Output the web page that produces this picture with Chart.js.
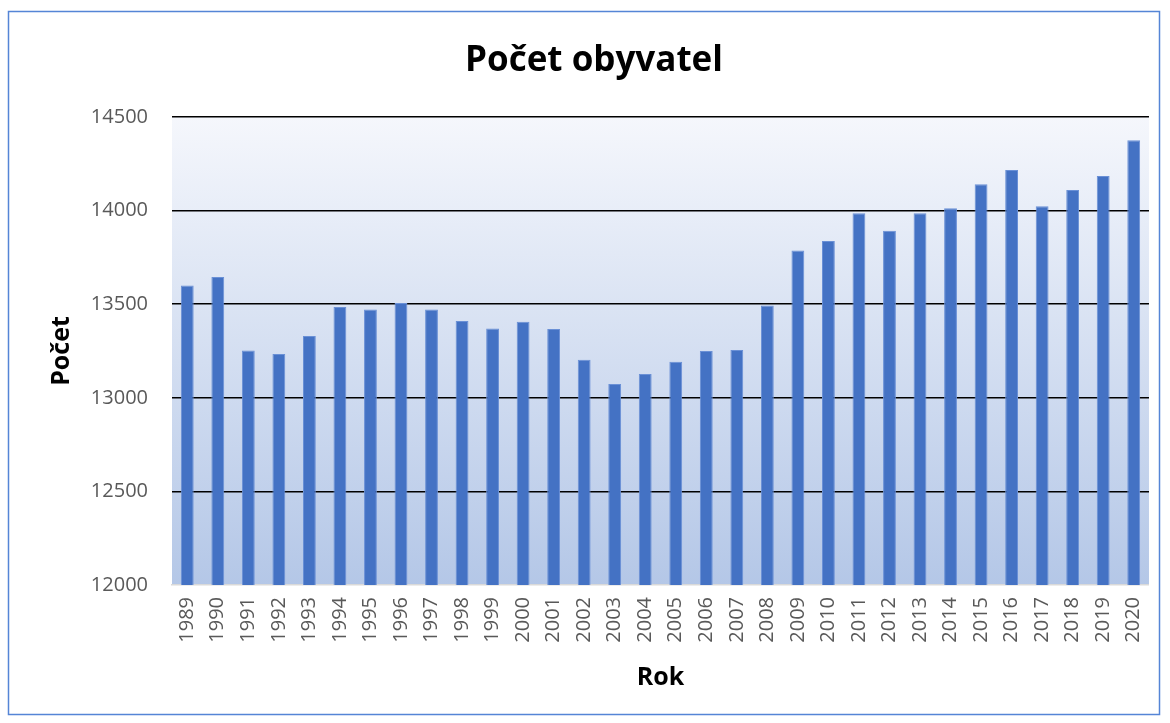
<!DOCTYPE html>
<html lang="cs">
<head>
<meta charset="utf-8">
<title>Počet obyvatel</title>
<script src="https://cdn.jsdelivr.net/npm/chart.js@4/dist/chart.umd.min.js"></script>
<style>
    html, body { margin: 0; padding: 0; background: #fff; }
    canvas { display: block; }
</style>
</head>
<body>
<canvas id="graf" width="1170" height="723"></canvas>
<script>
// Data
const roky = ["1989", "1990", "1991", "1992", "1993", "1994", "1995", "1996", "1997", "1998", "1999",
    "2000", "2001", "2002", "2003", "2004", "2005", "2006", "2007", "2008", "2009", "2010",
    "2011", "2012", "2013", "2014", "2015", "2016", "2017", "2018", "2019", "2020"];
const pocty = [13600, 13645, 13253, 13234, 13330, 13485, 13472, 13506, 13472, 13410, 13370,
    13406, 13367, 13203, 13074, 13127, 13193, 13250, 13255, 13493, 13787, 13837,
    13986, 13893, 13986, 14013, 14141, 14217, 14023, 14110, 14185, 14376];
const osaMin = 12000;
const osaMax = 14500;
const osaKrok = 500;

// Pozadí plochy grafu (přechod) + rámeček
const pozadi = {
    id: 'pozadi',
    beforeDraw(chart) {
        const { ctx, chartArea: a } = chart;
        const g = ctx.createLinearGradient(0, a.top, 0, a.bottom);
        g.addColorStop(0, '#f5f7fc');
        g.addColorStop(1, '#b4c7e7');
        ctx.save();
        ctx.fillStyle = g;
        ctx.fillRect(a.left, a.top, a.right - a.left, a.bottom - a.top);
        ctx.restore();
    },
    afterDraw(chart) {
        const ctx = chart.ctx;
        ctx.save();
        ctx.strokeStyle = '#5585d6';
        ctx.lineWidth = 1.5;
        ctx.strokeRect(8.5, 11.5, 1151, 703);
        ctx.restore();
    }
};

new Chart(document.getElementById('graf'), {
    type: 'bar',
    data: {
        labels: roky,
        datasets: [{
            label: 'Počet',
            data: pocty,
            backgroundColor: '#4472c4',
            borderColor: '#6a90d6',
            borderWidth: 1,
            barPercentage: 0.42,
            categoryPercentage: 1
        }]
    },
    options: {
        responsive: false,
        animation: false,
        devicePixelRatio: 1,
        layout: { padding: { top: 0, left: 36, right: 18, bottom: 0 } },
        plugins: {
            legend: { display: false },
            tooltip: { enabled: false },
            title: {
                display: true,
                text: 'Počet obyvatel',
                color: '#000',
                font: { family: 'Open Sans', size: 35, weight: 'bold', lineHeight: 1.2 },
                padding: { top: 40, bottom: 35 }
            }
        },
        scales: {
            x: {
                grid: { display: false, drawTicks: false },
                border: { display: true, color: '#d9d9d9', width: 1.5 },
                ticks: {
                    color: '#595959',
                    font: { family: 'Open Sans', size: 20 },
                    minRotation: 90,
                    maxRotation: 90,
                    padding: 12,
                    autoSkip: false
                },
                title: {
                    display: true,
                    text: 'Rok',
                    color: '#000',
                    font: { family: 'Open Sans', size: 25, weight: 'bold', lineHeight: 1.2 },
                    padding: { top: 0, bottom: 30 }
                },
                afterFit(scale) { scale.height = 138; }
            },
            y: {
                min: osaMin,
                max: osaMax,
                grid: {
                    color: ctx => (ctx.tick && ctx.tick.value === osaMin) ? 'rgba(0,0,0,0)' : '#000',
                    lineWidth: 1.5,
                    drawTicks: false
                },
                border: { display: false },
                ticks: {
                    stepSize: osaKrok,
                    color: '#595959',
                    font: { family: 'Open Sans', size: 20 },
                    padding: 24,
                    callback: v => String(v)
                },
                title: {
                    display: true,
                    text: 'Počet',
                    color: '#000',
                    font: { family: 'Open Sans', size: 25, weight: 'bold', lineHeight: 1.2 },
                    padding: { top: 11, bottom: 0 }
                },
                afterFit(scale) { scale.width = 136; }
            }
        }
    },
    plugins: [pozadi]
});
</script>
</body>
</html>
